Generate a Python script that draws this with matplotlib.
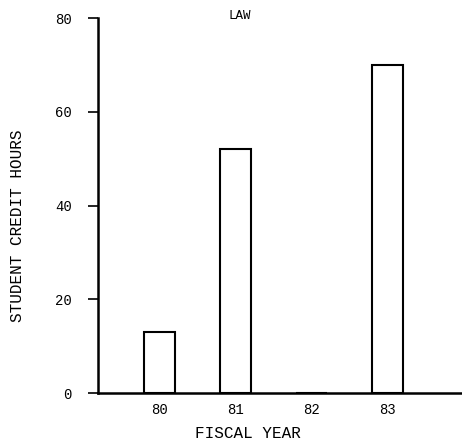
import matplotlib.pyplot as plt

years = [80, 81, 82, 83]
hours = [13, 52, 0, 70]
year_labels = ['80', '81', '82', '83']

fig = plt.figure(figsize=(4.62, 4.47), dpi=100)
ax = fig.add_axes([0.212, 0.1208, 0.788, 0.8389])

ax.bar(years, hours, width=0.41, color='white', edgecolor='black', linewidth=1.5)

ax.set_xlim(79.19, 83.98)
ax.set_ylim(0, 80)
ax.set_yticks([0, 20, 40, 60, 80])
ax.set_xticks(years)
ax.set_xticklabels(year_labels)
ax.tick_params(axis='x', length=0, pad=7)
ax.tick_params(axis='y', length=7, width=1.2, pad=12)
for lab in ax.get_xticklabels() + ax.get_yticklabels():
    lab.set_family('Liberation Mono')
    lab.set_fontsize(10)

for s in ['top', 'right']:
    ax.spines[s].set_visible(False)
ax.spines['left'].set_linewidth(1.8)
ax.spines['bottom'].set_linewidth(1.8)

# labels placed in figure coords to match the scan
fig.text(240 / 462, 1 - 16 / 447, 'LAW', family='Liberation Mono', fontsize=9,
         ha='center', va='center')
fig.text(18 / 462, 1 - 226 / 447, 'STUDENT CREDIT HOURS', family='Liberation Mono',
         fontsize=11.5, rotation=90, ha='center', va='center')
fig.text(248 / 462, 1 - 434 / 447, 'FISCAL YEAR', family='Liberation Mono',
         fontsize=11.5, ha='center', va='center')

fig.savefig('out.png', dpi=100)
